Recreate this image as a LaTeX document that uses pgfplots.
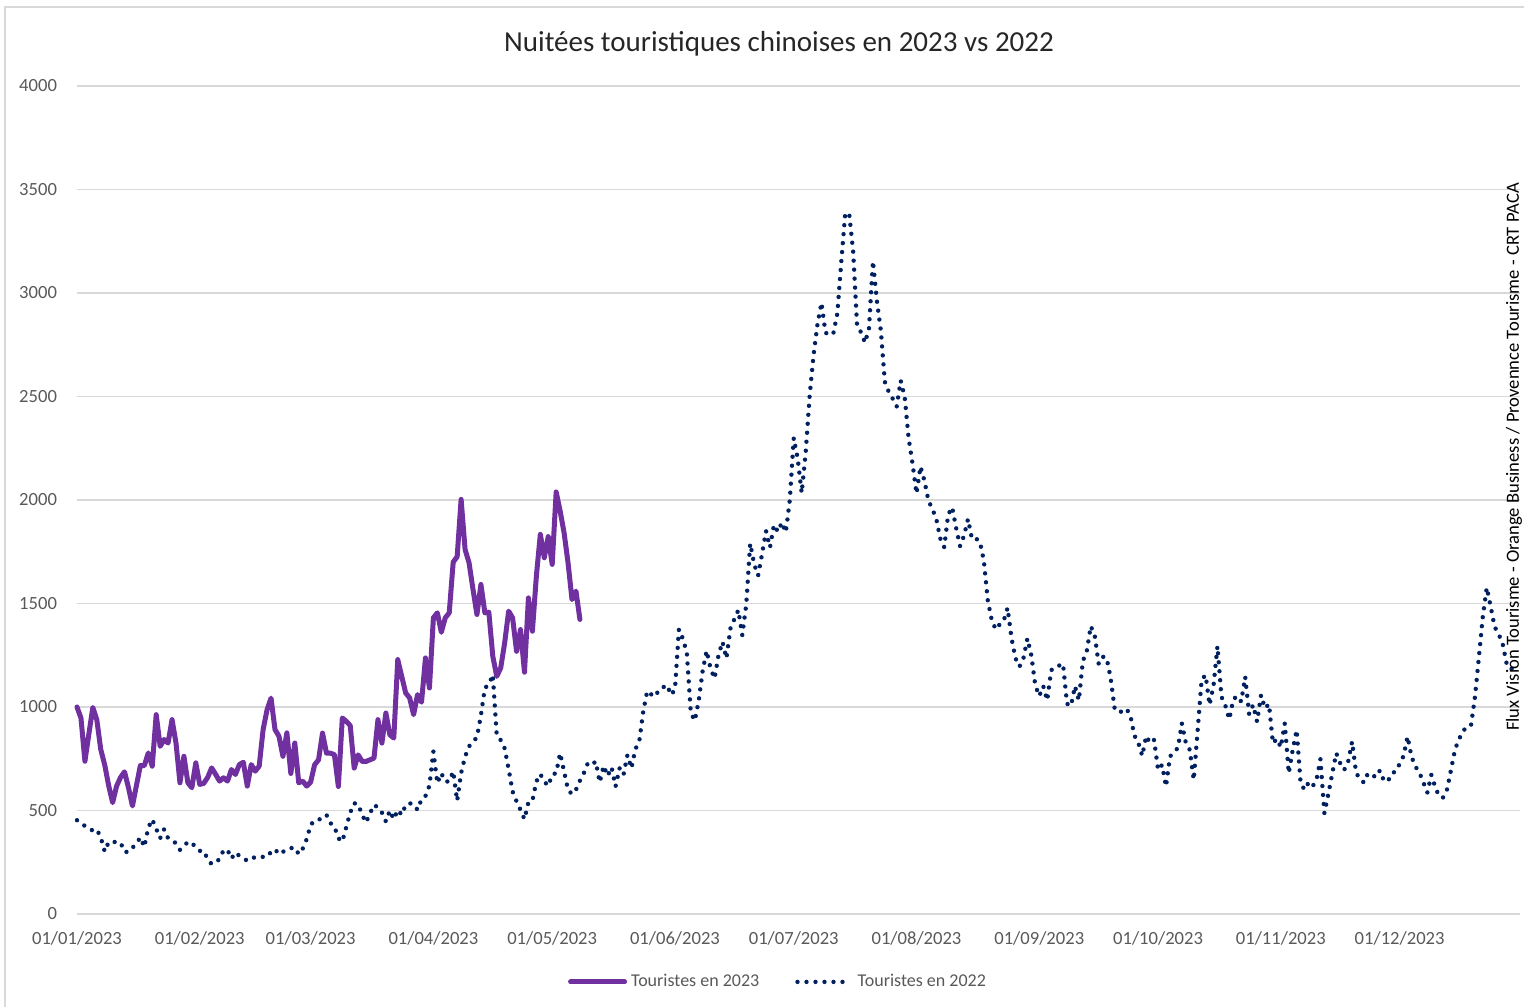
\documentclass[border=0pt]{standalone}
\usepackage{pgfplots}
\usepackage{pgfplotstable}
\pgfplotsset{compat=1.18}
\usepackage{fontspec}
\setmainfont{Carlito}

\definecolor{violet23}{HTML}{7030A0}
\definecolor{navy22}{HTML}{002060}
\definecolor{gridgray}{HTML}{D9D9D9}
\definecolor{textgray}{HTML}{595959}

% jour de l'annee (0 = 01/01), nuitees
\pgfplotstableread{
d v
0 1000
1 947
2 738
3 870
4 998
5 939
6 795
7 720
8 620
9 538
10 618
11 660
12 687
13 610
14 522
15 620
16 717
17 717
18 778
19 714
20 963
21 810
22 843
23 826
24 939
25 826
26 634
27 762
28 634
29 610
30 730
31 626
32 631
33 660
34 706
35 675
36 642
37 658
38 642
39 698
40 674
41 722
42 733
43 618
44 722
45 690
46 714
47 891
48 987
49 1043
50 891
51 859
52 762
53 875
54 679
55 826
56 634
57 642
58 618
59 637
60 721
61 745
62 874
63 777
64 777
65 770
66 616
67 947
68 931
69 910
70 705
71 769
72 737
73 737
74 745
75 753
76 939
77 826
78 971
79 866
80 850
81 1229
82 1148
83 1068
84 1044
85 963
86 1060
87 1023
88 1237
89 1092
90 1431
91 1455
92 1361
93 1431
94 1455
95 1700
96 1726
97 2003
98 1761
99 1697
100 1568
101 1447
102 1592
103 1455
104 1458
105 1245
106 1148
107 1189
108 1310
109 1463
110 1431
111 1269
112 1374
113 1168
114 1527
115 1366
116 1632
117 1834
118 1721
119 1823
120 1689
121 2039
122 1947
123 1842
124 1697
125 1519
126 1560
127 1423
}\serieA

\pgfplotstableread{
d v
0 453
1 440
2 425
3 410
4 404
5 409
6 370
7 302
8 348
9 348
10 348
11 345
12 300
13 300
14 320
15 340
16 370
17 324
18 417
19 457
20 412
21 366
22 409
23 366
24 355
25 342
26 310
27 329
28 348
29 345
30 320
31 305
32 305
33 265
34 241
35 250
36 265
37 308
38 310
39 268
40 297
41 281
42 270
43 257
44 265
45 276
46 276
47 276
48 276
49 300
50 313
51 289
52 300
53 313
54 318
55 321
56 289
57 316
58 361
59 430
60 452
61 455
62 465
63 479
64 439
65 423
66 366
67 350
68 420
69 490
70 535
71 530
72 479
73 442
74 487
75 527
76 515
77 490
78 447
79 500
80 458
81 503
82 479
83 527
84 535
85 530
86 503
87 555
88 570
89 620
90 785
91 632
92 680
93 640
94 640
95 689
96 547
97 681
98 760
99 810
100 830
101 855
102 960
103 1092
104 1108
105 1156
106 861
107 840
108 800
109 700
110 592
111 544
112 503
113 458
114 540
115 547
116 640
117 676
118 640
119 619
120 673
121 681
122 777
123 689
124 600
125 579
126 600
127 644
128 681
129 729
130 721
131 737
132 636
133 716
134 667
135 709
136 616
137 704
138 672
139 768
140 704
141 796
142 836
143 980
144 1077
145 1061
146 1050
147 1085
148 1095
149 1106
150 1058
151 1085
152 1375
153 1330
154 1262
155 973
156 934
157 1030
158 1175
159 1272
160 1185
161 1138
162 1251
163 1315
164 1235
165 1379
166 1424
167 1468
168 1347
169 1495
170 1790
171 1690
172 1635
173 1740
174 1850
175 1771
176 1880
177 1847
178 1892
179 1844
180 2000
181 2300
182 2200
183 2034
184 2226
185 2500
186 2700
187 2850
188 2953
189 2809
190 2796
191 2805
192 2900
193 3150
194 3384
195 3384
196 3200
197 2840
198 2810
199 2760
200 2830
201 3154
202 2961
203 2817
204 2571
205 2522
206 2489
207 2452
208 2577
209 2500
210 2300
211 2175
212 2031
213 2162
214 2093
215 1997
216 1957
217 1908
218 1814
219 1772
220 1930
221 1965
222 1865
223 1777
224 1828
225 1908
226 1812
227 1814
228 1799
229 1707
230 1514
231 1420
232 1375
233 1399
234 1415
235 1479
236 1331
237 1235
238 1195
239 1235
240 1331
241 1249
242 1104
243 1053
244 1101
245 1032
246 1177
247 1195
248 1200
249 1209
250 1016
251 1005
252 1101
253 1032
254 1222
255 1270
256 1391
257 1346
258 1209
259 1243
260 1238
261 1142
262 997
263 973
264 980
265 992
266 960
267 863
268 828
269 764
270 860
271 825
272 841
273 696
274 720
275 616
276 760
277 785
278 801
279 921
280 828
281 793
282 648
283 889
284 1133
285 1154
286 1010
287 1103
288 1294
289 1050
290 1006
291 941
292 1037
293 1053
294 1026
295 1146
296 965
297 1010
298 929
299 1058
300 994
301 1014
302 825
303 846
304 805
305 921
306 680
307 793
308 889
309 632
310 600
311 635
312 616
313 648
314 748
315 487
316 580
317 680
318 777
319 728
320 696
321 736
322 833
323 683
324 650
325 635
326 680
327 672
328 661
329 693
330 645
331 640
332 680
333 688
334 725
335 764
336 857
337 760
338 712
339 683
340 635
341 587
342 672
343 613
344 567
345 563
346 603
347 699
348 796
349 844
350 886
351 900
352 908
353 1045
354 1238
355 1436
356 1577
357 1484
358 1387
359 1352
360 1307
361 1211
362 1182
363 1190
}\serieB

\begin{document}
\begin{tikzpicture}
  \path[use as bounding box] (0,0) rectangle (762pt,503.5pt);
  \draw[gridgray, line width=0.8pt] (2.5pt,0) -- (2.5pt,500pt) -- (762pt,500pt);
  \node[font=\fontsize{14.5}{17}\selectfont, text=black!85] at (389.5pt,481.5pt)
    {Nuitées touristiques chinoises en 2023 vs 2022};

\begin{axis}[
  at={(38.5pt,46.5pt)}, anchor=south west,
  scale only axis,
  width=721.5pt, height=414pt,
  xmin=0, xmax=364.4,
  ymin=0, ymax=4000,
  axis line style={draw=none},
  major tick length=0pt,
  ytick={0,500,...,4000},
  ymajorgrids,
  grid style={gridgray, line width=0.7pt},
  xtick={0,31,59,90,120,151,181,212,243,273,304,334},
  xticklabels={01/01/2023,01/02/2023,01/03/2023,01/04/2023,01/05/2023,01/06/2023,
    01/07/2023,01/08/2023,01/09/2023,01/10/2023,01/11/2023,01/12/2023},
  ticklabel style={font=\fontsize{9.3}{11}\selectfont, text=textgray},
  xticklabel style={yshift=-5.5pt},
  yticklabel style={xshift=-6.5pt},
  /pgf/number format/assume math mode=true,
  /pgf/number format/1000 sep={},
  clip=false,
  legend columns=2,
  legend style={at={(0.4865,-0.082)}, anchor=center, draw=none,
    font=\fontsize{9}{11}\selectfont, text=textgray,
    /tikz/every even column/.append style={column sep=16pt},
    inner sep=0pt, nodes={inner sep=2pt}},
  legend image code/.code={\draw[#1] (0pt,0pt) -- (27pt,0pt);},
]
\addplot[violet23, line width=2.5pt, line join=round, line cap=round]
  table[x=d, y=v] {\serieA};
\addlegendentry{Touristes en 2023}
\addplot[navy22, line width=2.2pt, line cap=round, dash pattern=on 0pt off 4.5pt]
  table[x=d, y=v] {\serieB};
\addlegendentry{Touristes en 2022}
\end{axis}

  \node[rotate=90, font=\fontsize{9.3}{11}\selectfont, text=black, inner sep=0pt]
    at (757pt,275pt) {Flux Vision Tourisme - Orange Business / Provennce Tourisme - CRT PACA};
\end{tikzpicture}
\end{document}
